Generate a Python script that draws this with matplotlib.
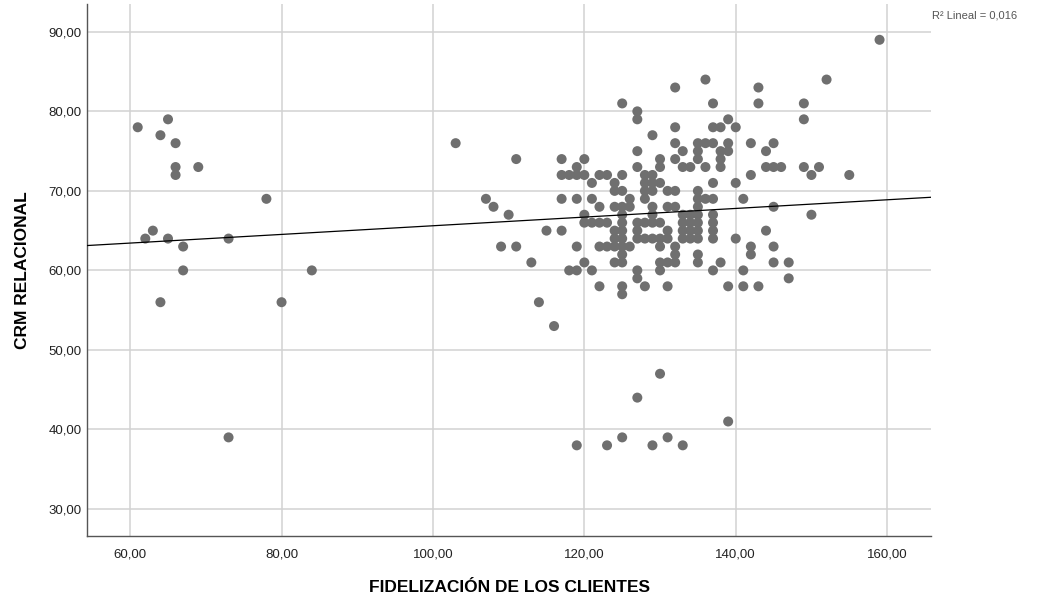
import numpy as np
import matplotlib
matplotlib.use("Agg")
import matplotlib.pyplot as plt
from matplotlib.ticker import FuncFormatter

plt.rcParams['font.family'] = ['Liberation Sans', 'DejaVu Sans']

# points, grouped by CRM RELACIONAL value (y) -> list of FIDELIZACION values (x)
rows = {
    89: [159],
    84: [136, 152],
    83: [132, 143],
    81: [125, 137, 143, 149],
    80: [127],
    79: [65, 127, 139, 149],
    78: [61, 132, 137, 138, 140],
    77: [64, 129],
    76: [66, 103, 132, 135, 136, 137, 139, 142, 145],
    75: [127, 133, 135, 138, 139, 144],
    74: [111, 117, 120, 130, 132, 135, 138],
    73: [66, 69, 119, 127, 130, 133, 134, 136, 138, 144, 145, 146, 149, 151],
    72: [66, 117, 118, 119, 120, 122, 123, 125, 128, 129, 142, 150, 155],
    71: [121, 124, 128, 129, 130, 137, 140],
    70: [124, 125, 128, 129, 131, 132, 135],
    69: [78, 107, 117, 119, 121, 126, 128, 135, 136, 137, 141],
    68: [108, 122, 124, 125, 126, 129, 131, 132, 135, 145],
    67: [110, 120, 125, 129, 133, 134, 135, 137, 150],
    66: [120, 121, 122, 123, 125, 127, 128, 129, 130, 133, 134, 135, 137],
    65: [63, 115, 117, 124, 125, 127, 131, 133, 134, 135, 137, 144],
    64: [62, 65, 73, 124, 125, 127, 128, 129, 130, 131, 133, 134, 135, 137, 140],
    63: [67, 109, 111, 119, 122, 123, 124, 125, 126, 130, 132, 142, 145],
    62: [125, 132, 135, 142],
    61: [113, 120, 124, 125, 130, 131, 132, 135, 138, 145, 147],
    60: [67, 84, 118, 119, 121, 127, 130, 137, 141],
    59: [127, 147],
    58: [122, 125, 128, 131, 139, 141, 143],
    57: [125],
    56: [64, 80, 114],
    53: [116],
    47: [130],
    44: [127],
    41: [139],
    39: [73, 125, 131],
    38: [119, 123, 129, 133],
}

fidelizacion = np.array([x for y, xs in rows.items() for x in xs], dtype=float)
crm = np.array([y for y, xs in rows.items() for x in xs], dtype=float)

x_ticks = [60, 80, 100, 120, 140, 160]
y_ticks = [30, 40, 50, 60, 70, 80, 90]

fig = plt.figure(figsize=(10.42, 6.0), dpi=100)
ax = fig.add_axes([0.0835, 0.1067, 0.81, 0.8866])

ax.scatter(fidelizacion, crm, s=52, color='#6f6f6f', edgecolors='none', zorder=3)

# linear fit
slope, intercept = np.polyfit(fidelizacion, crm, 1)
xl = np.array([54.3, 165.8])
ax.plot(xl, intercept + slope * xl, color='black', lw=0.9, zorder=4)

ax.set_xlim(54.3, 165.8)
ax.set_ylim(26.6, 93.5)
ax.set_xticks(x_ticks)
ax.set_yticks(y_ticks)
fmt = FuncFormatter(lambda v, p: f"{v:.2f}".replace('.', ','))
ax.xaxis.set_major_formatter(fmt)
ax.yaxis.set_major_formatter(fmt)
ax.grid(True, color='#d2d2d2', lw=1.1, zorder=0)
ax.set_axisbelow(True)
ax.tick_params(length=0, labelsize=9.5, labelcolor='#222222', pad=4)
ax.tick_params(axis='x', pad=9)

for s in ['top', 'right']:
    ax.spines[s].set_visible(False)
for s in ['left', 'bottom']:
    ax.spines[s].set_color('#555555')
    ax.spines[s].set_linewidth(1.0)

ax.set_xlabel('FIDELIZACIÓN DE LOS CLIENTES', fontsize=12.5, fontweight='bold', labelpad=14)
ax.set_ylabel('CRM RELACIONAL', fontsize=12.5, fontweight='bold', labelpad=13)

fig.text(0.894, 0.974, 'R² Lineal = 0,016', fontsize=8, color='#555555', ha='left', va='center')

fig.savefig('out.png', dpi=100)
